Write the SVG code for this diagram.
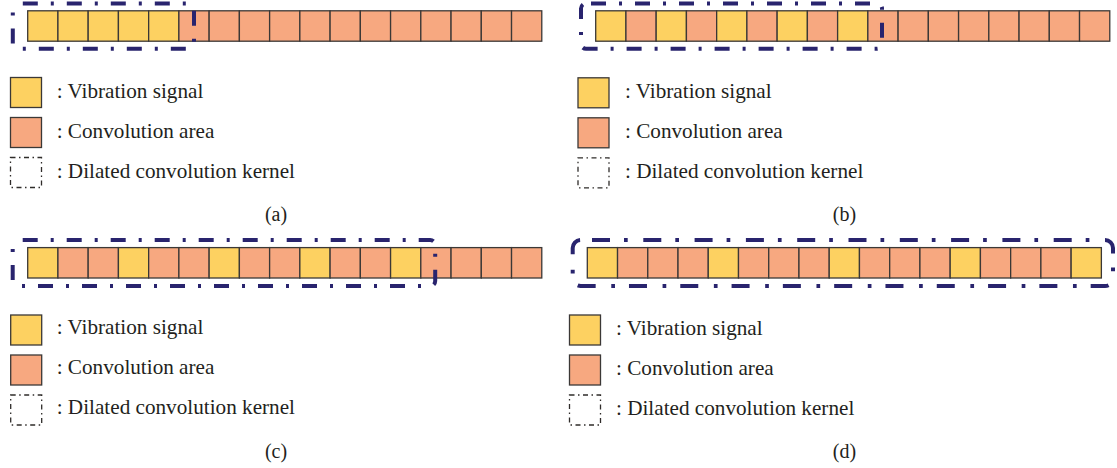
<svg xmlns="http://www.w3.org/2000/svg" width="1117" height="468" viewBox="0 0 1117 468">
  <style>
    .sig { fill: #FDD161; stroke: #3b3836; stroke-width: 1.3; }
    .conv { fill: #F7A880; stroke: #3b3836; stroke-width: 1.3; }
    .kernel { fill: none; stroke: #29246E; stroke-width: 4; stroke-dasharray: 15 13 3 13; stroke-dashoffset: 39; }
    .kernel-wide { stroke-dasharray: 18 14 3.7 15.6; stroke-dashoffset: 40; }
    .key-kernel { fill: none; stroke: #2f2c2a; stroke-width: 1.3; stroke-dasharray: 5 3.5 1.5 3.5; }
    .lbl { font-family: "Liberation Serif", "Times New Roman", serif; font-size: 21.2px; fill: #231f20; }
    .cap { font-family: "Liberation Serif", "Times New Roman", serif; font-size: 20px; fill: #231f20; text-anchor: middle; }
  </style>
  <defs>
    <!-- one cell of the sequence, 30.24 wide -->
    <rect id="cell" width="30.24" height="30.4"/>
    <!-- legend keys -->
    <g id="legend">
      <rect class="sig" x="0" y="0" width="31" height="30"/>
      <rect class="conv" x="0" y="40" width="31" height="30"/>
      <rect class="key-kernel" x="0" y="80" width="31" height="30"/>
    </g>
  </defs>

  <!-- (a) dilation 1, kernel size 5 -->
  <g id="panel-a">
    <g id="seq-a" transform="translate(27.7,10.8)">
      <use href="#cell" x="0" class="sig"/>
      <use href="#cell" x="30.24" class="sig"/>
      <use href="#cell" x="60.48" class="sig"/>
      <use href="#cell" x="90.72" class="sig"/>
      <use href="#cell" x="120.96" class="sig"/>
      <use href="#cell" x="151.2" class="conv"/>
      <use href="#cell" x="181.44" class="conv"/>
      <use href="#cell" x="211.68" class="conv"/>
      <use href="#cell" x="241.92" class="conv"/>
      <use href="#cell" x="272.16" class="conv"/>
      <use href="#cell" x="302.4" class="conv"/>
      <use href="#cell" x="332.64" class="conv"/>
      <use href="#cell" x="362.88" class="conv"/>
      <use href="#cell" x="393.12" class="conv"/>
      <use href="#cell" x="423.36" class="conv"/>
      <use href="#cell" x="453.6" class="conv"/>
      <use href="#cell" x="483.84" class="conv"/>
    </g>
    <rect id="kernel-a" class="kernel" x="12.8" y="3.5" width="181.2" height="45.3" rx="5"/>
    <g id="legend-a">
      <use href="#legend" x="10.5" y="77.5"/>
      <text class="lbl" x="56.7" y="98.3">: Vibration signal</text>
      <text class="lbl" x="56.7" y="138.3">: Convolution area</text>
      <text class="lbl" x="56.7" y="178.3">: Dilated convolution kernel</text>
    </g>
    <text class="cap" x="276" y="221">(a)</text>
  </g>

  <!-- (b) dilation 2, kernel size 5 -->
  <g id="panel-b">
    <g id="seq-b" transform="translate(595.7,10.8)">
      <use href="#cell" x="0" class="sig"/>
      <use href="#cell" x="30.24" class="conv"/>
      <use href="#cell" x="60.48" class="sig"/>
      <use href="#cell" x="90.72" class="conv"/>
      <use href="#cell" x="120.96" class="sig"/>
      <use href="#cell" x="151.2" class="conv"/>
      <use href="#cell" x="181.44" class="sig"/>
      <use href="#cell" x="211.68" class="conv"/>
      <use href="#cell" x="241.92" class="sig"/>
      <use href="#cell" x="272.16" class="conv"/>
      <use href="#cell" x="302.4" class="conv"/>
      <use href="#cell" x="332.64" class="conv"/>
      <use href="#cell" x="362.88" class="conv"/>
      <use href="#cell" x="393.12" class="conv"/>
      <use href="#cell" x="423.36" class="conv"/>
      <use href="#cell" x="453.6" class="conv"/>
      <use href="#cell" x="483.84" class="conv"/>
    </g>
    <rect id="kernel-b" class="kernel" x="581" y="3.5" width="301" height="45.3" rx="5"/>
    <g id="legend-b">
      <use href="#legend" x="578" y="77.8"/>
      <text class="lbl" x="625" y="97.8">: Vibration signal</text>
      <text class="lbl" x="625" y="137.8">: Convolution area</text>
      <text class="lbl" x="625" y="177.8">: Dilated convolution kernel</text>
    </g>
    <text class="cap" x="844.5" y="220.5">(b)</text>
  </g>

  <!-- (c) dilation 3, kernel size 5 -->
  <g id="panel-c">
    <g id="seq-c" transform="translate(27.7,247.6)">
      <use href="#cell" x="0" class="sig"/>
      <use href="#cell" x="30.24" class="conv"/>
      <use href="#cell" x="60.48" class="conv"/>
      <use href="#cell" x="90.72" class="sig"/>
      <use href="#cell" x="120.96" class="conv"/>
      <use href="#cell" x="151.2" class="conv"/>
      <use href="#cell" x="181.44" class="sig"/>
      <use href="#cell" x="211.68" class="conv"/>
      <use href="#cell" x="241.92" class="conv"/>
      <use href="#cell" x="272.16" class="sig"/>
      <use href="#cell" x="302.4" class="conv"/>
      <use href="#cell" x="332.64" class="conv"/>
      <use href="#cell" x="362.88" class="sig"/>
      <use href="#cell" x="393.12" class="conv"/>
      <use href="#cell" x="423.36" class="conv"/>
      <use href="#cell" x="453.6" class="conv"/>
      <use href="#cell" x="483.84" class="conv"/>
    </g>
    <rect id="kernel-c" class="kernel" x="12.7" y="240" width="422.5" height="46" rx="5"/>
    <g id="legend-c">
      <use href="#legend" x="10.7" y="315"/>
      <text class="lbl" x="56.7" y="334">: Vibration signal</text>
      <text class="lbl" x="56.7" y="374">: Convolution area</text>
      <text class="lbl" x="56.7" y="414">: Dilated convolution kernel</text>
    </g>
    <text class="cap" x="276" y="458">(c)</text>
  </g>

  <!-- (d) dilation 4, kernel size 5 -->
  <g id="panel-d">
    <g id="seq-d" transform="translate(587.3,247.6)">
      <use href="#cell" x="0" class="sig"/>
      <use href="#cell" x="30.24" class="conv"/>
      <use href="#cell" x="60.48" class="conv"/>
      <use href="#cell" x="90.72" class="conv"/>
      <use href="#cell" x="120.96" class="sig"/>
      <use href="#cell" x="151.2" class="conv"/>
      <use href="#cell" x="181.44" class="conv"/>
      <use href="#cell" x="211.68" class="conv"/>
      <use href="#cell" x="241.92" class="sig"/>
      <use href="#cell" x="272.16" class="conv"/>
      <use href="#cell" x="302.4" class="conv"/>
      <use href="#cell" x="332.64" class="conv"/>
      <use href="#cell" x="362.88" class="sig"/>
      <use href="#cell" x="393.12" class="conv"/>
      <use href="#cell" x="423.36" class="conv"/>
      <use href="#cell" x="453.6" class="conv"/>
      <use href="#cell" x="483.84" class="sig"/>
    </g>
    <rect id="kernel-d" class="kernel kernel-wide" x="572.7" y="240" width="540.3" height="46" rx="8"/>
    <g id="legend-d">
      <use href="#legend" x="569.5" y="315"/>
      <text class="lbl" x="616" y="335">: Vibration signal</text>
      <text class="lbl" x="616" y="375">: Convolution area</text>
      <text class="lbl" x="616" y="415">: Dilated convolution kernel</text>
    </g>
    <text class="cap" x="844.5" y="458">(d)</text>
  </g>
</svg>
